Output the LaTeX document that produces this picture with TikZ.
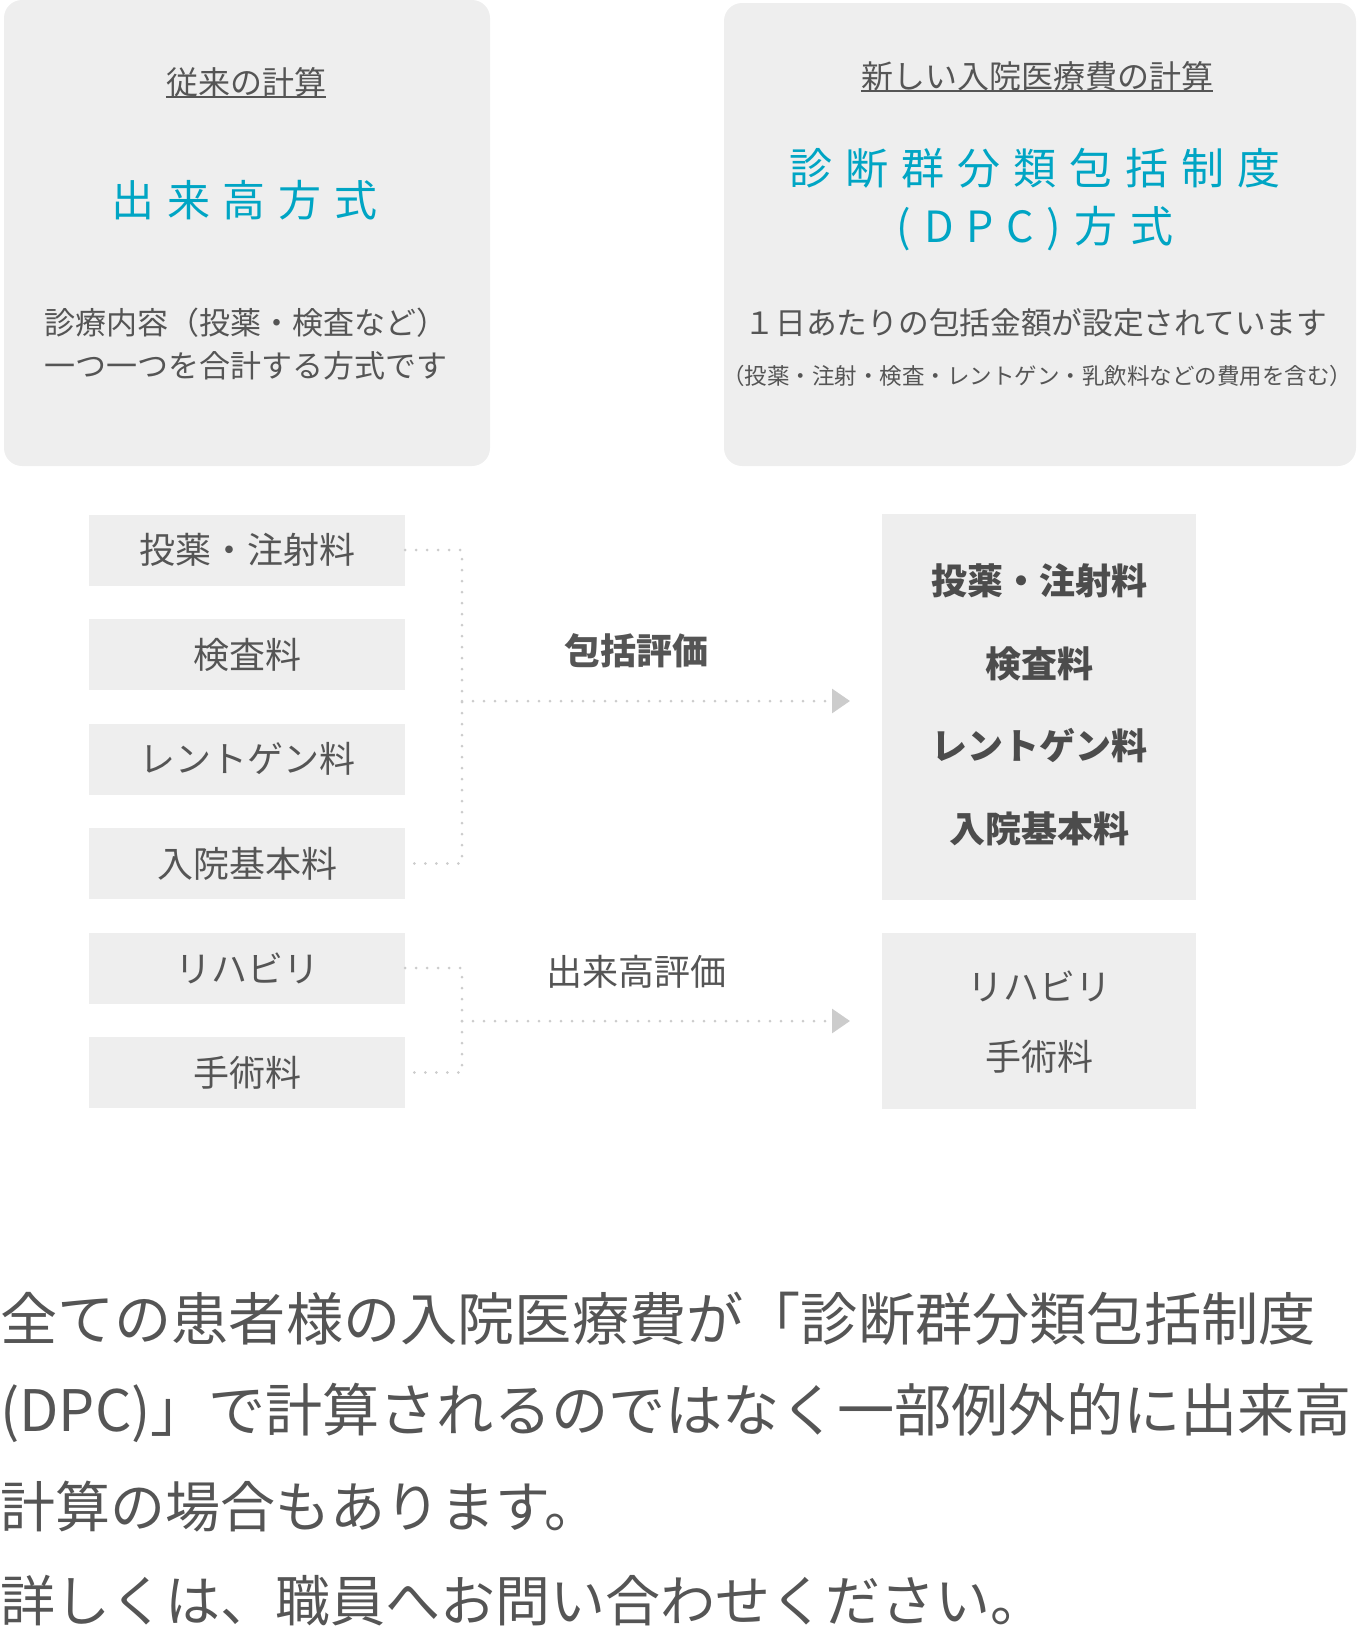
\documentclass[tikz,border=0pt]{standalone}
\usepackage{fontspec}
\setmainfont{Noto Sans CJK JP}
\newfontfamily\spacedfont[LetterSpace=30]{Noto Sans CJK JP}
\usetikzlibrary{arrows.meta}
\definecolor{boxgray}{HTML}{EEEEEE}
\definecolor{txtgray}{HTML}{555555}
\definecolor{dpcblue}{HTML}{00A5C4}
\definecolor{dotgray}{HTML}{CCCCCC}

\begin{document}
\begin{tikzpicture}[x=1pt, y=-1pt,
  panel/.style={fill=boxgray, rounded corners=18pt},
  item/.style={fill=boxgray, minimum width=316pt, minimum height=71pt, inner sep=0pt,
    text=txtgray, font=\fontsize{36}{40}\selectfont},
  dotline/.style={dotgray, line width=3pt, line cap=round, dash pattern=on 0pt off 11pt},
  tip/.style={-{Triangle[length=18pt, width=24pt]}, shorten >=32pt},
  noteline/.style={anchor=west, inner sep=0pt, text=txtgray}]
  \useasboundingbox (0,0) rectangle (1360,1644);

  % the two methods
  \fill[panel] (4,0) rectangle (490,466);
  \fill[panel] (724,3) rectangle (1356,466);

  \node[inner sep=0pt, text=txtgray, font=\fontsize{32}{36}\selectfont] (oldTitle) at (246,82) {従来の計算};
  \draw[txtgray, line width=1.5pt] (oldTitle.south west) -- (oldTitle.south east);
  \node[text=dpcblue, font=\fontsize{43}{58}\spacedfont] (oldName) at (244.5,200) {出来高方式};
  \node[align=center, text=txtgray, font=\fontsize{31}{43}\selectfont] (oldText) at (246,344)
    {診療内容（投薬・検査など）\\一つ一つを合計する方式です};

  \node[inner sep=0pt, text=txtgray, font=\fontsize{32}{36}\selectfont] (newTitle) at (1037,76) {新しい入院医療費の計算};
  \draw[txtgray, line width=1.5pt] (newTitle.south west) -- (newTitle.south east);
  \node[align=center, text=dpcblue, font=\fontsize{43}{58}\spacedfont] (newName) at (1035,200)
    {診断群分類包括制度\\(DPC)方式};
  \node[text=txtgray, font=\fontsize{30.7}{36}\selectfont] (newText) at (1036,323) {１日あたりの包括金額が設定されています};
  \node[text=txtgray, font=\fontsize{22.5}{26}\selectfont] (newNote) at (1037,376) {（投薬・注射・検査・レントゲン・乳飲料などの費用を含む）};

  % fee items
  \node[item] (drug) at (247,550) {投薬・注射料};
  \node[item] (exam) at (247,654.5) {検査料};
  \node[item] (xray) at (247,759) {レントゲン料};
  \node[item] (base) at (247,863.5) {入院基本料};
  \node[item] (reha) at (247,968) {リハビリ};
  \node[item] (ope) at (247,1072.5) {手術料};

  \fill[boxgray] (882,514) rectangle (1196,900);
  \node[font=\fontsize{36}{40}\bfseries, text=txtgray!90!black] (pkgDrug) at (1039,581) {投薬・注射料};
  \node[font=\fontsize{36}{40}\bfseries, text=txtgray!90!black] (pkgExam) at (1039,664) {検査料};
  \node[font=\fontsize{36}{40}\bfseries, text=txtgray!90!black] (pkgXray) at (1039,746) {レントゲン料};
  \node[font=\fontsize{36}{40}\bfseries, text=txtgray!90!black] (pkgBase) at (1039,829) {入院基本料};
  \coordinate (pkg) at (882,701);

  \fill[boxgray] (882,933) rectangle (1196,1109);
  \node[font=\fontsize{36}{40}\selectfont, text=txtgray] (feeReha) at (1039,986) {リハビリ};
  \node[font=\fontsize{36}{40}\selectfont, text=txtgray] (feeOpe) at (1039,1057) {手術料};
  \coordinate (fee) at (882,1021);

  % dotted connectors
  \coordinate (jA) at (462,701);
  \coordinate (jB) at (462,1021);
  \draw[dotline] (drug.east) -| (jA) |- (base.east);
  \draw[dotline, tip] (jA) -- (pkg);
  \draw[dotline] (reha.east) -| (jB) |- (ope.east);
  \draw[dotline, tip] (jB) -- (fee);

  \node[font=\fontsize{36}{40}\bfseries, text=txtgray] (pkgLabel) at (636,651) {包括評価};
  \node[font=\fontsize{36}{40}\selectfont, text=txtgray] (feeLabel) at (636,972) {出来高評価};

  % note
  \node[noteline, font=\fontsize{57.2}{60}\selectfont] (note1) at (0,1319) {全ての患者様の入院医療費が「診断群分類包括制度};
  \node[noteline, font=\fontsize{57.2}{60}\selectfont] (note2) at (0,1413) {(DPC)」で計算されるのではなく一部例外的に出来高};
  \node[noteline, font=\fontsize{55}{60}\selectfont] (note3) at (0,1507) {計算の場合もあります。};
  \node[noteline, font=\fontsize{55}{60}\selectfont] (note4) at (0,1601) {詳しくは、職員へお問い合わせください。};
\end{tikzpicture}
\end{document}
